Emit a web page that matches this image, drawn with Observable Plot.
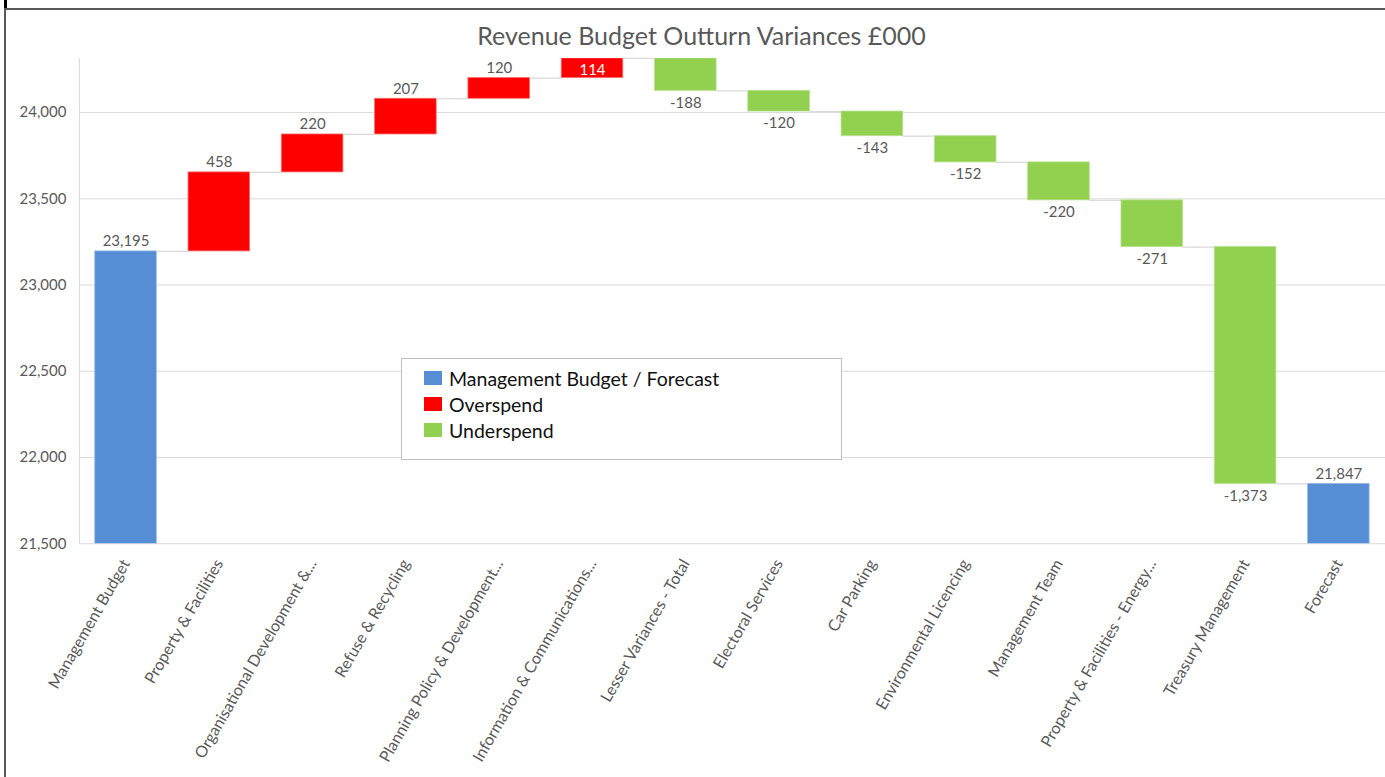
<!DOCTYPE html>
<html>
<head>
<meta charset="utf-8">
<script src="https://cdn.jsdelivr.net/npm/d3@7"></script>
<script src="https://cdn.jsdelivr.net/npm/@observablehq/plot@0.6"></script>
<style>
  html, body { margin: 0; padding: 0; background: #fff; overflow: hidden; width: 1385px; height: 777px; }
  #wrap { position: relative; width: 1385px; height: 777px; font-family: Lato, "Open Sans", sans-serif; }
  #chart { position: absolute; left: 0; top: 0; }
  #title { position: absolute; left: 0; width: 1403px; top: 20px; text-align: center; font-size: 25px; color: #595959; }
  #legend { position: absolute; left: 401px; top: 358px; width: 439px; height: 100px; border: 1px solid #bfbfbf; background: #fff; }
  .row { position: absolute; left: 22px; height: 20px; display: flex; align-items: center; font-size: 19.5px; color: #111; white-space: nowrap; }
  .sw { width: 18px; height: 14px; margin-right: 7px; }
  .frame-top { position: absolute; left: 4px; top: 8px; width: 1381px; height: 1.5px; background: #595959; }
  .frame-left { position: absolute; left: 4px; top: 8px; width: 1.5px; height: 769px; background: #595959; }
  .frame-tick { position: absolute; left: 4px; top: 0; width: 3px; height: 8px; background: #000; }
</style>
</head>
<body>
<div id="wrap">
  <div id="chart"></div>
  <div id="title"></div>
  <div id="legend"></div>
  <div class="frame-top"></div>
  <div class="frame-left"></div>
  <div class="frame-tick"></div>
</div>
<script>
const title = "Revenue Budget Outturn Variances £000";
const categories = [
  "Management Budget",
  "Property & Facilities",
  "Organisational Development &...",
  "Refuse & Recycling",
  "Planning Policy & Development...",
  "Information & Communications...",
  "Lesser Variances - Total",
  "Electoral Services",
  "Car Parking",
  "Environmental Licencing",
  "Management Team",
  "Property & Facilities - Energy...",
  "Treasury Management",
  "Forecast"
];
const values = [23195, 458, 220, 207, 120, 114, -188, -120, -143, -152, -220, -271, -1373, 21847];
const kinds = ["total", "over", "over", "over", "over", "over", "under", "under", "under", "under", "under", "under", "under", "total"];
const yTicks = [21500, 22000, 22500, 23000, 23500, 24000];
const legendLabels = ["Management Budget / Forecast", "Overspend", "Underspend"];
const legendKinds = ["total", "over", "under"];
const colors = {total: "#558ed5", over: "#ff0000", under: "#92d050"};
const strokes = {total: "#9dbbe6", over: "#ff6b6b", under: "#b5e08c"};

// Build waterfall rows
let running = 0;
const rows = categories.map((name, i) => {
  const v = values[i], k = kinds[i];
  let start, end;
  if (k === "total") { start = 0; end = v; running = v; }
  else { start = running; end = running + v; running = end; }
  return {i, name, v, k, start, end};
});
const yMin = yTicks[0];
const yMax = d3.max(rows, d => Math.max(d.start, d.end));
const connectors = rows.slice(0, -1).map(d => ({i: d.i, level: d.end}));
const hw = 0.33;

const fmt = d => (d < 0 ? "-" : "") + d3.format(",")(Math.abs(d));
const labels = rows.map(d => ({
  i: d.i,
  text: fmt(d.v),
  y: d.end,
  pos: d.k === "under" ? "below" : (d.k === "over" && d.end >= yMax ? "inside" : "above")
}));

const plot = Plot.plot({
  width: 1387,
  height: 777,
  marginLeft: 79,
  marginRight: 0,
  marginTop: 58,
  marginBottom: 233,
  style: {fontFamily: "Lato, 'Open Sans', sans-serif", background: "transparent", overflow: "visible"},
  x: {type: "linear", domain: [-0.5, categories.length - 0.5], axis: null, label: null},
  y: {domain: [yMin, yMax], axis: null, label: null},
  marks: [
    Plot.gridY(yTicks, {stroke: "#d9d9d9", strokeOpacity: 1, strokeWidth: 1}),
    Plot.ruleX([-0.5], {stroke: "#d9d9d9", strokeWidth: 1}),
    Plot.rectY(rows, {
      x1: d => d.i - hw, x2: d => d.i + hw,
      y1: d => d.start, y2: d => d.end,
      fill: d => colors[d.k],
      stroke: d => strokes[d.k],
      strokeWidth: 0.8,
      clip: true
    }),
    Plot.ruleY(connectors, {y: "level", x1: d => d.i + hw, x2: d => d.i + 1 - hw, stroke: "#d9d9d9", strokeWidth: 1.2}),
    Plot.text(labels.filter(d => d.pos === "above"), {x: "i", y: "y", text: "text", dy: -10, fill: "#595959", fontSize: 15}),
    Plot.text(labels.filter(d => d.pos === "below"), {x: "i", y: "y", text: "text", dy: 12, fill: "#595959", fontSize: 15}),
    Plot.text(labels.filter(d => d.pos === "inside"), {x: "i", y: "y", text: "text", dy: 12, fill: "#ffffff", fontSize: 15}),
    Plot.axisY(yTicks, {tickFormat: fmt, tickSize: 0, tickPadding: 13, fontSize: 15, fill: "#595959", label: null}),
    Plot.axisX(d3.range(categories.length), {
      tickFormat: i => categories[i], tickRotate: -60, tickSize: 0, tickPadding: 17,
      fontSize: 16, fill: "#595959", label: null
    })
  ]
});
document.getElementById("chart").appendChild(plot);

document.getElementById("title").textContent = title;
const legend = document.getElementById("legend");
legendLabels.forEach((lab, j) => {
  const row = document.createElement("div");
  row.className = "row";
  row.style.top = (9 + j * 26) + "px";
  const sw = document.createElement("div");
  sw.className = "sw";
  sw.style.background = colors[legendKinds[j]];
  const t = document.createElement("span");
  t.textContent = lab;
  row.appendChild(sw);
  row.appendChild(t);
  legend.appendChild(row);
});
</script>
</body>
</html>
